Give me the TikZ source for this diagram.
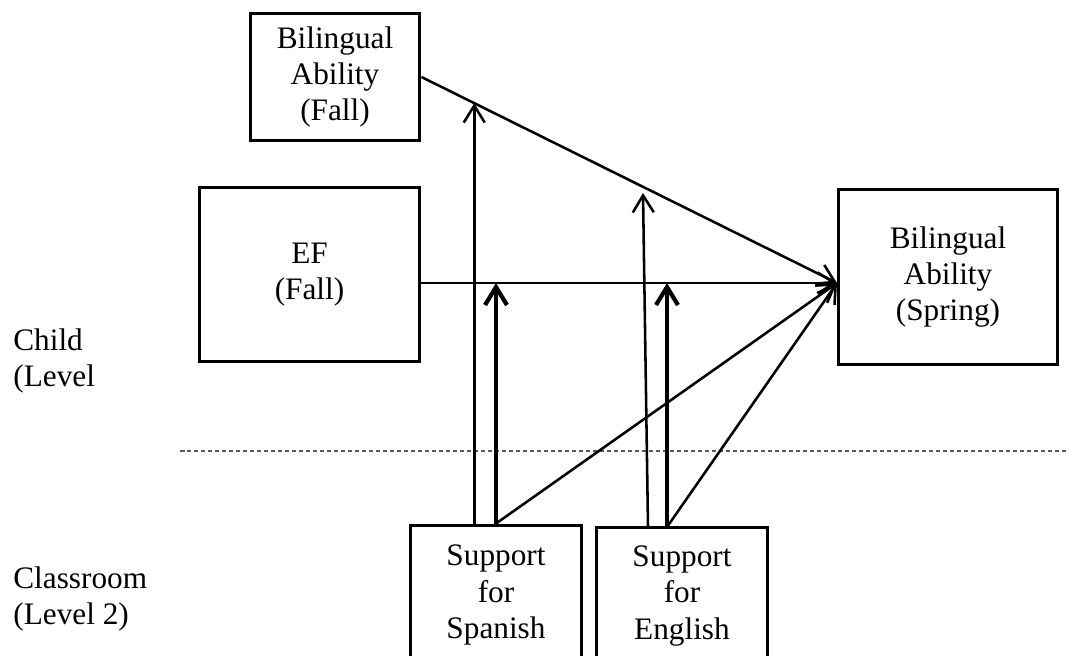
\documentclass[tikz,border=0pt]{standalone}
\usepackage{fontspec}
\setmainfont{Liberation Serif}
\usetikzlibrary{arrows.meta}

\begin{document}
\begin{tikzpicture}[x=0.02cm, y=-0.02cm,
  box/.style={draw, line width=1.7pt, align=center, inner sep=0pt, font=\fontsize{17.8}{20.6}\selectfont},
  lbl/.style={align=left, anchor=north west, inner sep=0pt, font=\fontsize{17.8}{20.6}\selectfont},
  effect/.style={line width=1.45pt, -{Straight Barb[length=0.34cm, width=0.42cm]}},
  moder/.style={line width=2.4pt, -{Straight Barb[length=0.36cm, width=0.44cm]}}]
\useasboundingbox (0,0) rectangle (1069,656);

\node (baf) [box, minimum width=3.4cm, minimum height=2.56cm] at (335,77) {Bilingual\\Ability\\(Fall)};
\node (ef) [box, minimum width=4.4cm, minimum height=3.5cm] at (309.5,274.5) {EF\\(Fall)};
\node (spr) [box, minimum width=4.4cm, minimum height=3.52cm] at (948,277) {Bilingual\\Ability\\(Spring)};
\node (sps) [box, minimum width=3.44cm, minimum height=2.8cm] at (496,595) {Support\\for\\Spanish};
\node (spe) [box, minimum width=3.44cm, minimum height=2.76cm] at (682,596) {Support\\for\\English};

\node (child) [lbl] at (13,328) {Child\\(Level};
\node (class) [lbl] at (13,566) {Classroom\\(Level 2)};

\coordinate (hub) at (837,283);
\path (baf.east) -- (hub) coordinate[pos=0.127] (tipS);
\coordinate (tipE) at (643,193);
\coordinate (engA) at (648,527);
\coordinate (engB) at (667,527);
\coordinate (sepL) at (180,451);
\coordinate (sepR) at (1069,451);

% levels
\draw [gray!70!black, line width=0.6pt, dash pattern=on 0.09cm off 0.05cm] (sepL) -- (sepR);

% main paths
\draw [effect] (baf.east) -- (hub);
\draw [effect] (ef.east |- hub) -- (hub);

% Spanish
\draw [effect] (sps.north -| tipS) -- (tipS);
\draw [moder] (sps.north) -- (sps.north |- hub);
\draw [effect] (sps.north) -- (hub);

% English
\draw [effect] (engA) -- (tipE);
\draw [moder] (engB) -- (engB |- hub);
\draw [effect] (engB) -- (hub);
\end{tikzpicture}
\end{document}
